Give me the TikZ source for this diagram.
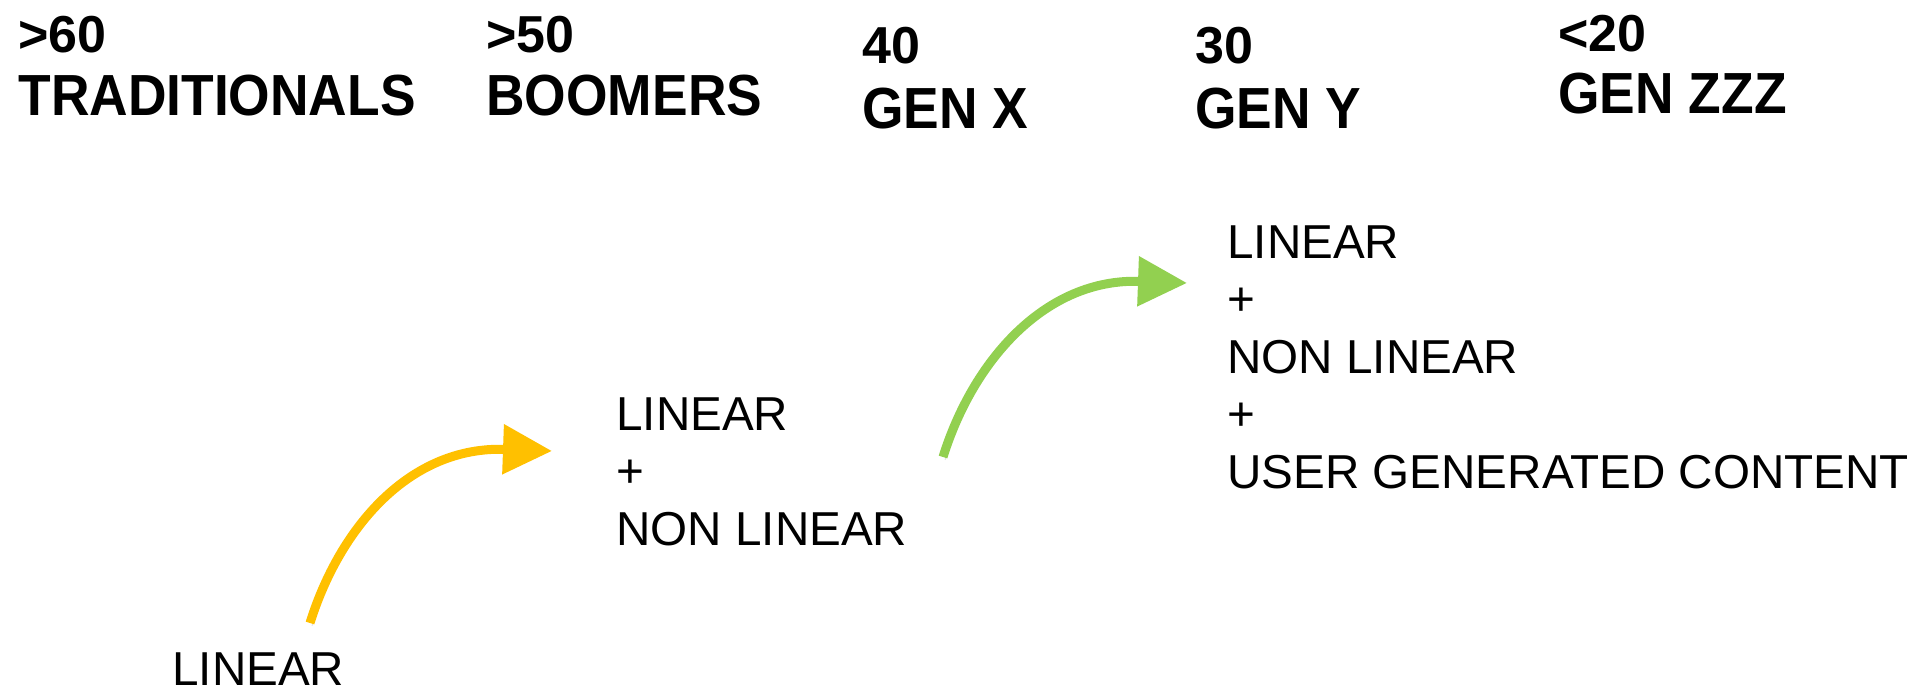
\documentclass[tikz,border=0pt]{standalone}
\usepackage{fontspec}
\setmainfont{Liberation Sans}
\newfontfamily\genfont[FakeStretch=0.92]{Liberation Sans}
\usetikzlibrary{arrows.meta}
\definecolor{gold}{HTML}{FFC000}
\definecolor{leaf}{HTML}{92D050}
\tikzset{
  age/.style={anchor=base west, inner sep=0pt, font=\bfseries\fontsize{26}{30}\selectfont},
  gen/.style={anchor=base west, inner sep=0pt, font=\genfont\bfseries\fontsize{29}{34}\selectfont},
  media/.style={anchor=base west, inner sep=0pt, align=left, font=\fontsize{23.8}{28.75}\selectfont},
  growth/.style={line width=4.5pt, -{Triangle[length=24.5pt,width=24pt]},
    preaction={draw=black!12, transform canvas={shift={(1pt,-1.5pt)}}}},
}

\begin{document}
\begin{tikzpicture}[x=0.5pt,y=0.5pt]
  \useasboundingbox (0,0) rectangle (1931,692);
  % generations
  \foreach \n/\x/\a/\b/\age/\gen in {trad/18/639/576/{>60}/TRADITIONALS,
      boom/486/639/576/{>50}/BOOMERS, genx/862/628/563/40/GEN X,
      geny/1195/628/563/30/GEN Y, genz/1558/640/578/{<20}/GEN ZZZ} {
    \node[age] (\n-age) at (\x,\a) {\age};
    \node[gen] (\n) at (\x,\b) {\gen};
  }
  % media
  \node[media] (lin) at (172,7) {LINEAR};
  \node[media] (nonlin) at (616,147) {LINEAR\\+\\NON LINEAR};
  \node[media] (ugc) at (1227,204) {LINEAR\\+\\NON LINEAR\\+\\USER GENERATED CONTENT};
  \coordinate (ytail) at (310,69);
  \coordinate (ytip) at (552,241);
  \coordinate (gtail) at (943,235);
  \coordinate (gtip) at (1187,409);
  \draw[growth, gold] (ytail) .. controls +(30,96) and +(-142,5) .. (ytip);
  \draw[growth, leaf] (gtail) .. controls +(30,96) and +(-142,5) .. (gtip);
\end{tikzpicture}
\end{document}
